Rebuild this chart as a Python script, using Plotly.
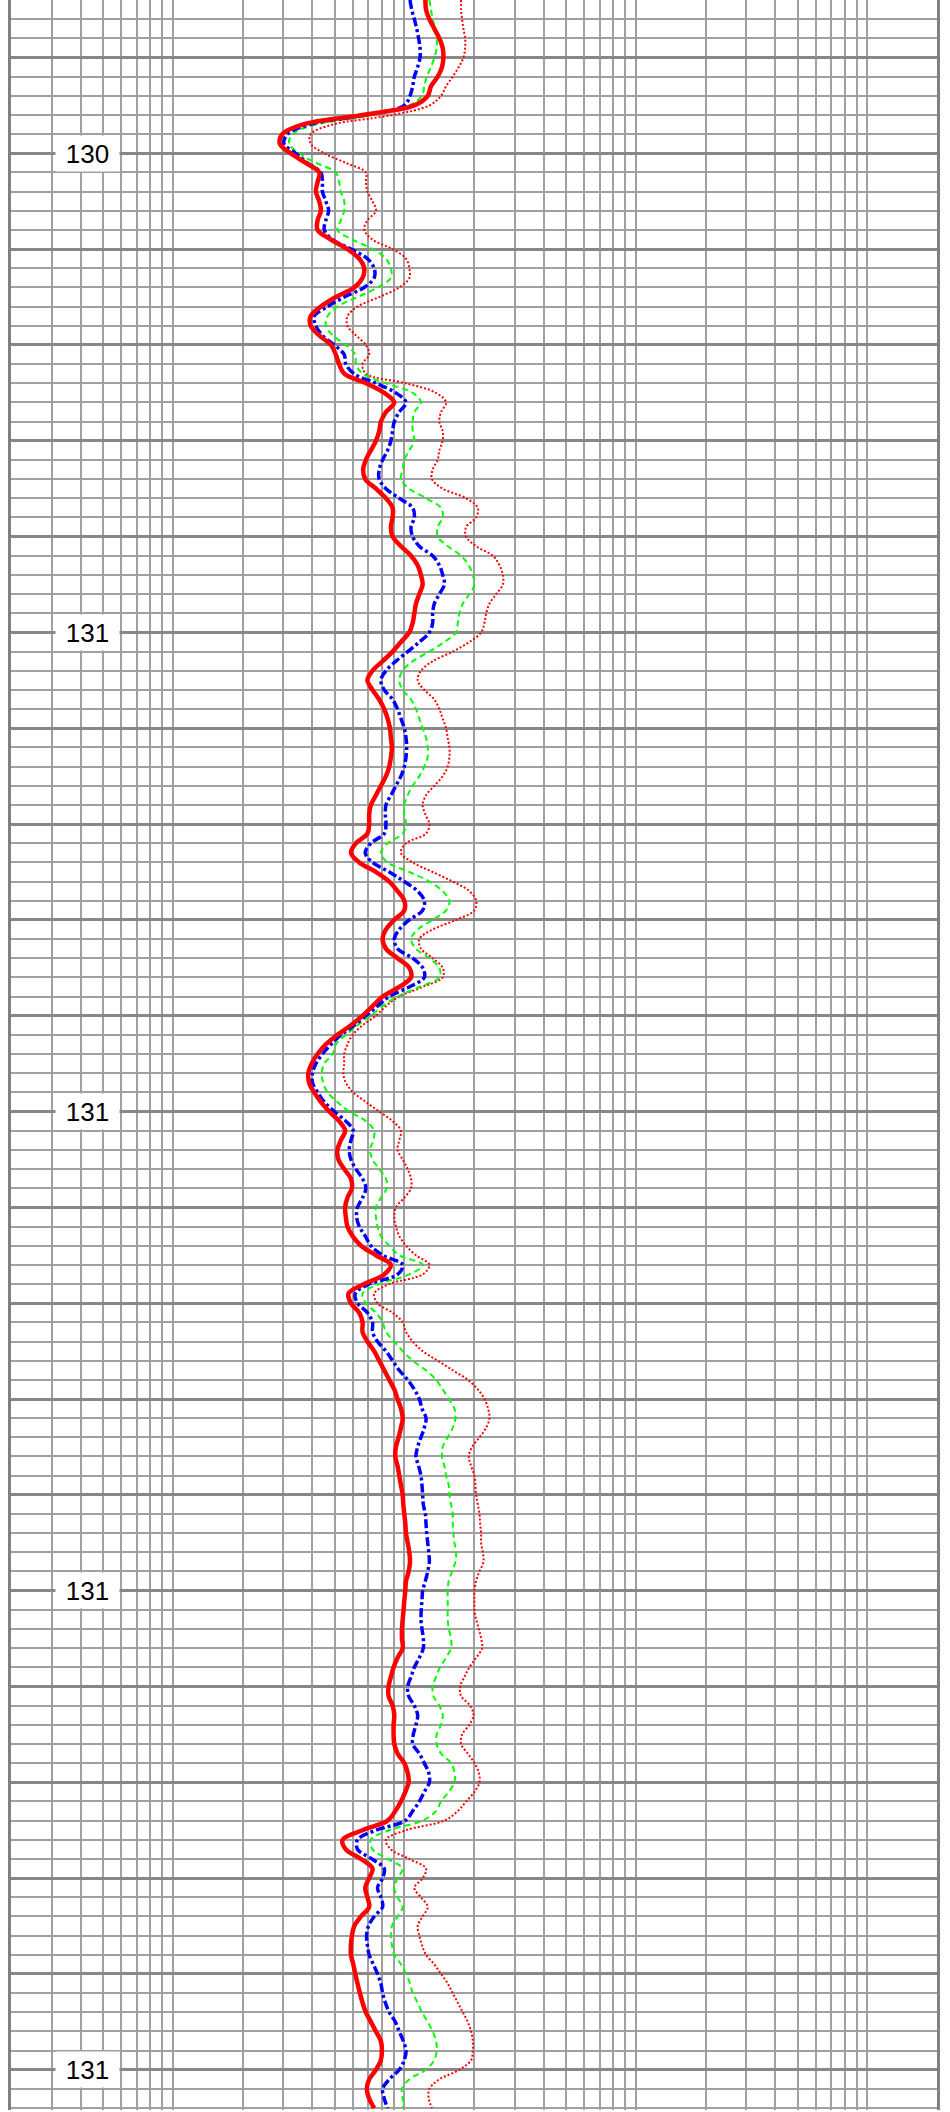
import math
import plotly.graph_objects as go

# Depth samples (m) — track runs from 130.17 to 131.27
depth = [
    130.17, 130.175, 130.18, 130.185, 130.19, 130.195, 130.2, 130.205, 130.21, 130.215,
    130.22, 130.225, 130.23, 130.235, 130.24, 130.245, 130.25, 130.255, 130.26, 130.265,
    130.27, 130.275, 130.28, 130.285, 130.29, 130.295, 130.3, 130.305, 130.31, 130.315,
    130.32, 130.325, 130.33, 130.335, 130.34, 130.345, 130.35, 130.355, 130.36, 130.365,
    130.37, 130.375, 130.38, 130.385, 130.39, 130.395, 130.4, 130.405, 130.41, 130.415,
    130.42, 130.425, 130.43, 130.435, 130.44, 130.445, 130.45, 130.455, 130.46, 130.465,
    130.47, 130.475, 130.48, 130.485, 130.49, 130.495, 130.5, 130.505, 130.51, 130.515,
    130.52, 130.525, 130.53, 130.535, 130.54, 130.545, 130.55, 130.555, 130.56, 130.565,
    130.57, 130.575, 130.58, 130.585, 130.59, 130.595, 130.6, 130.605, 130.61, 130.615,
    130.62, 130.625, 130.63, 130.635, 130.64, 130.645, 130.65, 130.655, 130.66, 130.665,
    130.67, 130.675, 130.68, 130.685, 130.69, 130.695, 130.7, 130.705, 130.71, 130.715,
    130.72, 130.725, 130.73, 130.735, 130.74, 130.745, 130.75, 130.755, 130.76, 130.765,
    130.77, 130.775, 130.78, 130.785, 130.79, 130.795, 130.8, 130.805, 130.81, 130.815,
    130.82, 130.825, 130.83, 130.835, 130.84, 130.845, 130.85, 130.855, 130.86, 130.865,
    130.87, 130.875, 130.88, 130.885, 130.89, 130.895, 130.9, 130.905, 130.91, 130.915,
    130.92, 130.925, 130.93, 130.935, 130.94, 130.945, 130.95, 130.955, 130.96, 130.965,
    130.97, 130.975, 130.98, 130.985, 130.99, 130.995, 131.0, 131.005, 131.01, 131.015,
    131.02, 131.025, 131.03, 131.035, 131.04, 131.045, 131.05, 131.055, 131.06, 131.065,
    131.07, 131.075, 131.08, 131.085, 131.09, 131.095, 131.1, 131.105, 131.11, 131.115,
    131.12, 131.125, 131.13, 131.135, 131.14, 131.145, 131.15, 131.155, 131.16, 131.165,
    131.17, 131.175, 131.18, 131.185, 131.19, 131.195, 131.2, 131.205, 131.21, 131.215,
    131.22, 131.225, 131.23, 131.235, 131.24, 131.245, 131.25, 131.255, 131.26, 131.265,
    131.27,
]

# Red solid (thick)
res_red = [
    12.33, 12.41, 12.83, 13.48, 14.17, 14.65, 14.75, 14.55, 13.94, 13.04,
    12.62, 11.05, 6.60, 3.63, 2.97, 2.90, 3.23, 3.75, 4.29, 4.22,
    4.15, 4.29, 4.36, 4.22, 4.22, 4.82, 5.68, 6.39, 6.71, 6.60,
    6.08, 5.06, 4.36, 3.94, 3.94, 4.29, 4.82, 5.06, 5.23, 5.50,
    6.82, 8.19, 9.05, 8.33, 7.92, 7.79, 7.54, 7.17, 6.82, 6.64,
    6.78, 7.54, 8.33, 8.90, 8.90, 8.75, 8.90, 9.67, 10.69, 11.42,
    11.80, 12.00, 11.61, 11.23, 11.05, 10.87, 10.51, 9.67, 8.90, 8.06,
    7.29, 6.93, 7.29, 7.79, 8.19, 8.47, 8.67, 8.75, 8.84, 8.75,
    8.61, 8.33, 7.92, 7.54, 7.17, 7.05, 7.05, 6.93, 6.18, 5.88,
    6.39, 7.54, 8.61, 9.35, 10.0, 10.0, 9.05, 8.33, 8.06, 8.33,
    9.35, 10.51, 10.69, 9.51, 8.06, 7.29, 6.60, 5.88, 5.14, 4.58,
    4.22, 3.98, 3.85, 3.88, 4.08, 4.36, 4.74, 5.23, 5.55, 5.32,
    5.14, 5.19, 5.50, 5.88, 5.94, 5.68, 5.55, 5.59, 5.68, 5.98,
    6.50, 7.54, 8.75, 8.19, 6.71, 5.74, 5.88, 6.39, 6.60, 6.60,
    6.93, 7.41, 7.79, 8.19, 8.61, 9.05, 9.35, 9.67, 9.84, 9.67,
    9.45, 9.20, 9.14, 9.35, 9.51, 9.67, 9.84, 9.90, 10.0, 10.10,
    10.17, 10.34, 10.51, 10.58, 10.44, 10.17, 10.10, 10.0, 9.93, 9.84,
    9.77, 9.77, 9.84, 9.35, 8.99, 8.75, 8.55, 8.55, 8.90, 9.05,
    8.99, 8.99, 9.05, 9.35, 10.0, 10.34, 10.44, 10.10, 9.67, 9.14,
    8.47, 6.60, 5.41, 5.59, 6.50, 7.29, 7.05, 6.78, 6.93, 7.05,
    6.50, 6.08, 5.94, 5.88, 5.88, 6.02, 6.14, 6.28, 6.43, 6.60,
    6.82, 7.17, 7.54, 7.92, 8.00, 7.92, 7.54, 7.05, 6.89, 7.05,
    7.41,
]

# Blue dash-dot
res_blue = [
    10.58, 10.76, 11.05, 11.31, 11.53, 11.69, 11.69, 11.42, 11.05, 10.87,
    10.58, 10.00, 6.82, 3.88, 3.13, 3.02, 3.40, 3.81, 4.36, 4.43,
    4.43, 4.58, 4.71, 4.58, 4.51, 4.90, 5.88, 6.93, 7.41, 7.41,
    6.71, 5.50, 4.66, 4.08, 4.15, 4.43, 4.98, 5.50, 5.59, 6.06,
    7.54, 9.20, 10.17, 9.51, 9.05, 8.90, 8.75, 8.47, 8.06, 7.79,
    7.79, 8.33, 9.51, 10.87, 11.05, 10.69, 10.87, 11.61, 13.26, 14.17,
    14.65, 14.90, 14.17, 13.48, 13.26, 13.26, 12.83, 11.61, 10.34, 9.20,
    8.33, 7.92, 8.19, 8.90, 9.35, 9.67, 10.0, 10.17, 10.24, 10.17,
    10.0, 9.67, 9.20, 8.75, 8.33, 8.28, 8.33, 8.19, 7.17, 6.78,
    7.29, 8.61, 10.0, 11.42, 12.20, 12.0, 10.51, 9.51, 9.05, 9.35,
    10.87, 12.0, 12.20, 10.51, 8.61, 7.66, 6.82, 6.08, 5.32, 4.82,
    4.43, 4.15, 4.01, 4.01, 4.22, 4.51, 4.98, 5.59, 6.02, 5.88,
    5.78, 5.88, 6.18, 6.60, 6.82, 6.60, 6.28, 6.22, 6.39, 6.78,
    7.17, 8.06, 9.84, 9.35, 7.05, 6.14, 6.28, 6.93, 7.29, 7.29,
    7.66, 8.33, 8.90, 9.51, 10.34, 11.05, 11.61, 11.92, 12.41, 12.20,
    11.80, 11.42, 11.23, 11.53, 11.80, 11.92, 12.0, 12.08, 12.33, 12.41,
    12.49, 12.62, 12.75, 12.83, 12.62, 12.33, 12.0, 11.92, 11.84, 11.80,
    11.92, 12.08, 12.08, 11.61, 11.05, 10.69, 10.34, 10.44, 11.05, 11.42,
    11.23, 10.94, 10.87, 11.61, 12.20, 12.75, 12.83, 12.20, 11.61, 10.87,
    10.10, 7.54, 6.28, 6.28, 7.24, 8.19, 8.06, 7.66, 7.92, 8.06,
    7.41, 7.00, 6.87, 6.93, 7.05, 7.35, 7.66, 7.92, 8.06, 8.28,
    8.61, 9.14, 9.51, 9.90, 10.17, 10.0, 9.51, 8.61, 8.06, 8.19,
    8.47,
]

# Green dashed
res_green = [
    12.83, 13.04, 13.26, 13.62, 13.80, 13.80, 13.48, 13.04, 12.49, 12.20,
    11.92, 10.51, 7.29, 4.15, 3.29, 3.18, 3.51, 4.15, 5.06, 5.23,
    5.32, 5.50, 5.50, 5.32, 5.14, 5.98, 7.29, 8.33, 8.75, 8.75,
    7.66, 6.28, 5.14, 4.66, 4.58, 4.90, 5.59, 6.14, 6.18, 6.60,
    8.33, 10.87, 11.80, 11.05, 10.87, 10.87, 11.05, 10.51, 10.0, 9.84,
    9.67, 10.51, 12.41, 14.41, 14.65, 13.94, 13.94, 15.40, 17.59, 18.99,
    19.76, 20.09, 19.11, 17.89, 17.30, 17.02, 16.74, 14.90, 12.83, 10.87,
    9.84, 9.51, 9.84, 10.69, 11.23, 11.61, 12.0, 12.41, 12.62, 12.62,
    12.20, 11.61, 10.87, 10.34, 10.0, 10.0, 10.17, 9.84, 8.47, 7.92,
    8.47, 10.51, 12.83, 14.65, 15.66, 15.15, 13.26, 11.42, 10.69, 11.23,
    12.83, 14.17, 14.17, 11.61, 9.35, 8.06, 7.17, 6.28, 5.59, 5.06,
    4.90, 4.51, 4.40, 4.46, 4.66, 5.14, 5.78, 6.82, 7.41, 7.35,
    7.11, 7.29, 7.79, 8.33, 8.39, 7.92, 7.54, 7.54, 7.66, 7.92,
    8.61, 9.51, 12.0, 10.51, 7.79, 6.60, 6.82, 7.54, 8.06, 8.33,
    9.05, 9.84, 10.87, 12.41, 13.71, 14.65, 15.56, 16.46, 16.63, 16.19,
    15.40, 14.65, 14.55, 14.90, 15.15, 15.56, 15.66, 15.92, 16.19, 16.19,
    16.30, 16.46, 16.74, 16.63, 16.08, 15.56, 15.40, 15.40, 15.40, 15.40,
    15.56, 15.92, 15.92, 15.15, 14.27, 13.71, 13.26, 13.35, 14.17, 14.65,
    14.41, 13.80, 13.80, 14.41, 15.92, 16.46, 16.46, 15.56, 14.41, 13.71,
    12.0, 8.61, 7.17, 7.29, 8.47, 9.84, 9.35, 9.05, 9.35, 9.84,
    9.35, 8.84, 8.75, 8.84, 9.05, 9.67, 10.17, 10.58, 10.87, 11.42,
    11.92, 12.62, 13.26, 13.71, 13.80, 13.48, 12.41, 10.51, 9.77, 9.84,
    9.90,
]

# Red dotted
res_dot = [
    17.59, 17.59, 17.77, 18.01, 18.31, 18.31, 18.01, 17.19, 16.19, 15.15,
    14.41, 12.83, 8.90, 4.90, 3.94, 3.94, 4.51, 5.59, 6.82, 6.82,
    6.93, 7.29, 7.54, 6.93, 6.71, 7.29, 8.90, 10.17, 10.51, 10.51,
    9.51, 7.79, 6.28, 5.68, 5.68, 6.18, 6.82, 7.05, 6.60, 6.82,
    10.17, 13.71, 15.15, 14.41, 14.17, 14.65, 14.65, 14.17, 13.94, 13.26,
    13.17, 14.65, 18.49, 20.77, 20.43, 18.49, 18.49, 20.43, 24.12, 25.78,
    26.65, 26.65, 24.93, 23.33, 22.57, 22.20, 21.47, 19.11, 16.19, 13.26,
    11.80, 11.42, 12.20, 13.48, 14.17, 14.65, 15.15, 15.40, 15.66, 15.66,
    15.40, 14.65, 13.48, 12.41, 12.0, 12.33, 12.83, 12.41, 10.17, 9.67,
    10.87, 13.26, 16.19, 19.11, 20.43, 20.09, 16.74, 13.26, 11.61, 11.80,
    13.26, 14.65, 14.65, 12.0, 9.51, 8.33, 7.54, 6.60, 5.98, 5.68,
    5.50, 5.50, 5.45, 5.59, 6.02, 6.82, 7.79, 8.90, 9.67, 9.51,
    9.35, 9.84, 10.34, 10.69, 10.69, 10.0, 9.20, 9.05, 9.20, 9.51,
    10.17, 11.23, 12.83, 12.0, 8.61, 7.41, 7.66, 8.90, 9.84, 10.17,
    10.87, 12.0, 13.94, 16.19, 18.80, 20.77, 22.20, 23.0, 23.33, 22.57,
    21.12, 19.63, 18.99, 19.43, 20.09, 20.29, 20.43, 20.77, 21.12, 21.26,
    21.47, 21.47, 21.83, 21.98, 21.12, 20.43, 20.09, 20.09, 20.09, 20.43,
    20.98, 21.47, 21.69, 20.43, 19.11, 18.19, 17.42, 17.59, 19.24, 19.89,
    19.11, 17.77, 17.59, 18.80, 20.09, 20.98, 21.12, 20.09, 18.49, 17.02,
    14.90, 10.17, 8.33, 8.75, 10.51, 12.41, 12.0, 11.05, 11.80, 12.62,
    12.0, 11.42, 11.61, 11.92, 12.41, 13.48, 14.41, 15.40, 16.19, 17.02,
    17.89, 18.80, 19.43, 19.76, 19.76, 19.43, 17.30, 14.17, 12.83, 12.75,
    13.17,
]

# Depth tick labels shown inside the track
label_depths = [130.25, 130.5, 130.75, 131.0, 131.25]
label_texts = ["130", "131", "131", "131", "131"]

x_min, x_max = 0.2, 2000.0
depth_top, depth_bottom = 130.17, 131.271

# log-grid positions (1..9 per decade)
x_grid = [m * 10 ** e for e in range(-1, 4) for m in range(1, 10)]
x_grid = [v for v in x_grid if x_min <= v <= x_max]

# depth grid: heavy every 0.05, light every 0.01
n_lo = int(round(depth_top * 100))
n_hi = int(round(depth_bottom * 100))
y_major = [round(n / 100, 2) for n in range(n_lo, n_hi + 1) if n % 5 == 0]
y_minor = [round(n / 100, 2) for n in range(n_lo, n_hi + 1) if n % 5 != 0]

fig = go.Figure()

fig.add_trace(go.Scatter(
    x=res_dot, y=depth, mode="lines", line_shape="spline",
    line=dict(color="#ff0000", width=2, dash="2px,2px"), showlegend=False, hoverinfo="skip"))
fig.add_trace(go.Scatter(
    x=res_green, y=depth, mode="lines", line_shape="spline",
    line=dict(color="#00ff00", width=2, dash="6px,4px"), showlegend=False, hoverinfo="skip"))
fig.add_trace(go.Scatter(
    x=res_blue, y=depth, mode="lines", line_shape="spline",
    line=dict(color="#0000ff", width=3.5, dash="9px,3px,3px,3px"), showlegend=False, hoverinfo="skip"))
fig.add_trace(go.Scatter(
    x=res_red, y=depth, mode="lines", line_shape="spline",
    line=dict(color="#ff0000", width=4.5), showlegend=False, hoverinfo="skip"))

for d, t in zip(label_depths, label_texts):
    fig.add_annotation(
        x=0.0826, xref="paper", y=d, yref="y", text=t, showarrow=False,
        xanchor="center", yanchor="middle", bgcolor="white",
        width=61, height=33,
        font=dict(family="Liberation Sans, Arial, sans-serif", size=26, color="black"))

fig.update_xaxes(
    type="log", range=[math.log10(x_min), math.log10(x_max)],
    tickmode="array", tickvals=x_grid, showticklabels=False, ticks="",
    showgrid=True, gridcolor="#a0a0a0", gridwidth=2,
    showline=False, zeroline=False)

fig.update_yaxes(
    range=[depth_bottom, depth_top],
    tickmode="array", tickvals=y_major, showticklabels=False, ticks="",
    showgrid=True, gridcolor="#888888", gridwidth=3,
    minor=dict(tickmode="array", tickvals=y_minor, showgrid=True,
               gridcolor="#a0a0a0", gridwidth=2, ticks=""),
    showline=True, mirror=True, linecolor="#808080", linewidth=3, zeroline=False)

fig.update_layout(
    width=950, height=2112,
    margin=dict(l=11, r=13, t=0, b=2),
    paper_bgcolor="white", plot_bgcolor="white",
    showlegend=False, hovermode=False,
)

fig.write_html(
    "out.html",
    config={"displayModeBar": False, "staticPlot": True},
    post_script="document.body.style.margin='0';document.body.style.padding='0';document.body.style.overflow='hidden';",
)
